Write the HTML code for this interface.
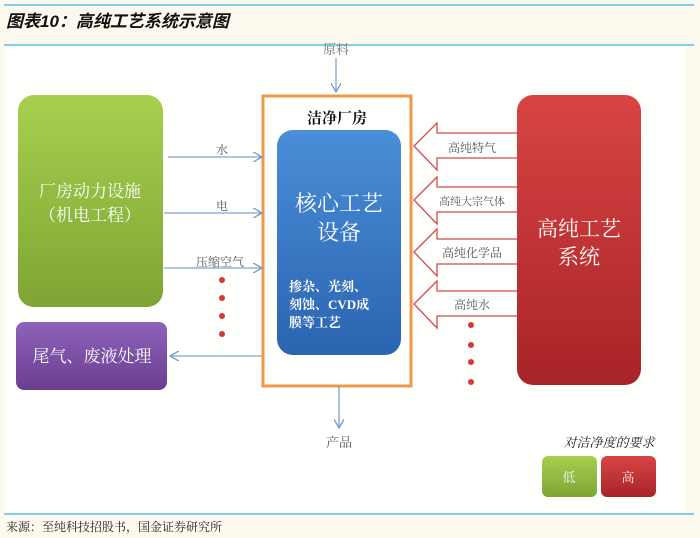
<!DOCTYPE html>
<html><head><meta charset="utf-8"><style>
body{margin:0;width:700px;height:538px;background:#fdf9ee;position:relative;overflow:hidden;font-family:"Liberation Serif","Noto Serif CJK SC",serif}
.a{position:absolute}
</style></head><body>
<div class="a" style="left:4px;top:4px;width:690px;height:2px;background:#7fd0f0"></div>
<div class="a" style="left:6px;top:7px;font-family:'Liberation Sans','Noto Sans CJK SC',sans-serif;font-size:17px;font-weight:bold;font-style:italic;color:#111">图表10：高纯工艺系统示意图</div>
<div class="a" style="left:4px;top:44px;width:690px;height:2px;background:#7fd0f0"></div>
<div class="a" style="left:4px;top:47px;width:681px;height:465px;background:#fffffd"></div>
<svg class="a" style="left:0;top:0" width="700" height="538">
<defs>
<linearGradient id="g" x1="0" y1="0" x2="0" y2="1"><stop offset="0" stop-color="#a8cf4e"/><stop offset="1" stop-color="#7ea534"/></linearGradient>
<linearGradient id="r" x1="0" y1="0" x2="0" y2="1"><stop offset="0" stop-color="#d84444"/><stop offset="1" stop-color="#a82427"/></linearGradient>
<linearGradient id="b" x1="0" y1="0" x2="0" y2="1"><stop offset="0" stop-color="#4a8ed8"/><stop offset="1" stop-color="#2b64b0"/></linearGradient>
<linearGradient id="p" x1="0" y1="0" x2="0" y2="1"><stop offset="0" stop-color="#8e63b8"/><stop offset="1" stop-color="#6a3f92"/></linearGradient>
<marker id="m" markerWidth="8" markerHeight="8" refX="7" refY="4" orient="auto"><path d="M0,0 L7,4 L0,8" fill="none" stroke="#6f9bd0" stroke-width="1"/></marker>
</defs>
<rect x="18" y="95" width="145" height="212" rx="16" fill="url(#g)"/>
<rect x="16" y="322" width="151" height="68" rx="8" fill="url(#p)"/>
<rect x="263" y="96" width="148" height="290" fill="none" stroke="#f0984a" stroke-width="3"/>
<rect x="277" y="130" width="124" height="225" rx="16" fill="url(#b)"/>
<rect x="517" y="95" width="124" height="290" rx="16" fill="url(#r)"/>
<g stroke="#7aa3d4" stroke-width="1.3" fill="none">
<line x1="336" y1="58" x2="336" y2="92" marker-end="url(#m)"/>
<line x1="168" y1="157" x2="262" y2="157" marker-end="url(#m)"/>
<line x1="164" y1="213" x2="262" y2="213" marker-end="url(#m)"/>
<line x1="164" y1="268" x2="262" y2="268" marker-end="url(#m)"/>
<line x1="262" y1="356" x2="170" y2="356" marker-end="url(#m)"/>
<line x1="339" y1="387" x2="339" y2="428" marker-end="url(#m)"/>
</g>
<g fill="none" stroke="#d44a4a" stroke-width="1.3">
<path d="M517,133 H437 V123 L414,146 L437,170 V158 H517"/>
<path d="M517,187 H437 V177 L414,200 L437,224 V212 H517"/>
<path d="M517,239 H437 V229 L414,252 L437,276 V264 H517"/>
<path d="M517,291 H437 V281 L414,304 L437,328 V316 H517"/>
</g>
<g fill="#d23a3a">
<circle cx="222" cy="280" r="3"/><circle cx="222" cy="298" r="3"/><circle cx="222" cy="316" r="3"/><circle cx="222" cy="334" r="3"/>
<circle cx="471" cy="325" r="3"/><circle cx="471" cy="345" r="3"/><circle cx="471" cy="362" r="3"/><circle cx="471" cy="382" r="3"/>
</g>
<rect x="542" y="456" width="55" height="41" rx="6" fill="url(#g)"/>
<rect x="601" y="456" width="55" height="41" rx="6" fill="url(#r)"/>
<g font-family="Liberation Serif,Noto Serif CJK SC,serif" text-anchor="middle">
<text x="336" y="54" font-size="13" fill="#777">原料</text>
<text x="339" y="447" font-size="13" fill="#555">产品</text>
<text x="222" y="154" font-size="12" fill="#555">水</text>
<text x="222" y="210" font-size="12" fill="#555">电</text>
<text x="220" y="266" font-size="12" fill="#555">压缩空气</text>
<text x="337" y="123" font-size="15" font-weight="bold" fill="#111">洁净厂房</text>
<text x="90" y="197" font-size="17" fill="#fff">厂房动力设施</text>
<text x="90" y="221" font-size="17" fill="#fff">（机电工程）</text>
<text x="92" y="362" font-size="17" fill="#fff">尾气、废液处理</text>
<text x="339" y="211" font-size="22" fill="#fff">核心工艺</text>
<text x="339" y="240" font-size="22" fill="#fff">设备</text>
<text x="579" y="236" font-size="21" fill="#fff">高纯工艺</text>
<text x="579" y="264" font-size="21" fill="#fff">系统</text>
<text x="472" y="152" font-size="12" fill="#555">高纯特气</text>
<text x="472" y="205" font-size="11" fill="#555">高纯大宗气体</text>
<text x="472" y="257" font-size="12" fill="#555">高纯化学品</text>
<text x="472" y="309" font-size="12" fill="#555">高纯水</text>
<text x="569" y="482" font-size="13" fill="#eef">低</text>
<text x="628" y="482" font-size="13" fill="#fee">高</text>
<text x="609" y="447" font-size="13" font-style="italic" fill="#222">对洁净度的要求</text>
</g>
<g font-family="Liberation Serif,Noto Serif CJK SC,serif" font-size="13" font-weight="bold" fill="#fff">
<text x="289" y="291">掺杂、光刻、</text>
<text x="289" y="309">刻蚀、CVD成</text>
<text x="289" y="327">膜等工艺</text>
</g>
</svg>
<div class="a" style="left:4px;top:513px;width:690px;height:2px;background:#7fd0f0"></div>
<div class="a" style="left:6px;top:518px;font-size:12px;color:#222">来源：至纯科技招股书，国金证券研究所</div>
</body></html>
